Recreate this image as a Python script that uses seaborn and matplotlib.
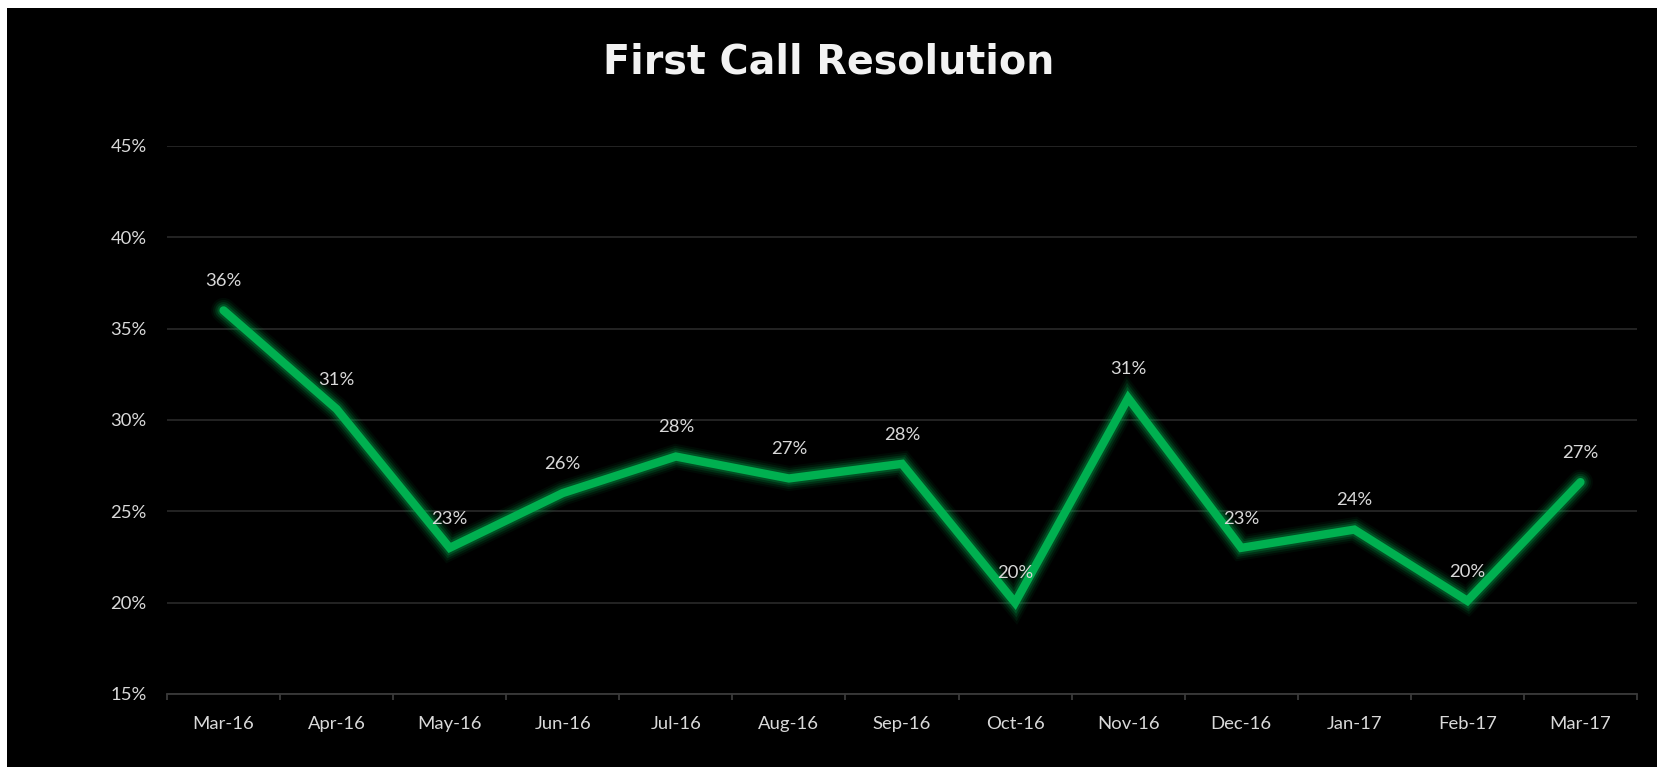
import numpy as np
import pandas as pd
import seaborn as sns
import matplotlib.pyplot as plt
import matplotlib.patheffects as pe
from matplotlib.patches import Rectangle
from matplotlib.ticker import FixedLocator, PercentFormatter

# values
months = ["Mar-16", "Apr-16", "May-16", "Jun-16", "Jul-16", "Aug-16", "Sep-16",
          "Oct-16", "Nov-16", "Dec-16", "Jan-17", "Feb-17", "Mar-17"]
fcr = [36.0, 30.6, 23.0, 26.0, 28.0, 26.8, 27.6, 20.0, 31.2, 23.0, 24.0, 20.1, 26.6]
y_ticks = [15, 20, 25, 30, 35, 40, 45]

df = pd.DataFrame({"month": months, "fcr": fcr})

GREEN = "#00B050"
TEXT = "#D9D9D9"
GRID = "#262626"

sns.set_style("dark")
plt.rcParams["font.family"] = ["Lato", "DejaVu Sans"]

W, H = 1658, 767
fig = plt.figure(figsize=(W / 100, H / 100), dpi=100)
fig.patch.set_facecolor("black")
# white strip on top and left like the screenshot
fig.patches.append(Rectangle((0, 0), 7 / W, 1, transform=fig.transFigure,
                             facecolor="white", edgecolor="none", zorder=-5))
fig.patches.append(Rectangle((0, 1 - 8 / H), 1, 8 / H, transform=fig.transFigure,
                             facecolor="white", edgecolor="none", zorder=-5))

ax = fig.add_axes([167 / W, (H - 694) / H, (1637 - 167) / W, (694 - 146) / H])
ax.set_facecolor("black")

# soft glow around the line
glow = [pe.Stroke(linewidth=6 + k, foreground="#00B050", alpha=a)
        for k, a in [(12, 0.06), (9, 0.10), (6, 0.16), (3, 0.25)]]
sns.lineplot(data=df, x="month", y="fcr", ax=ax, color=GREEN, linewidth=6,
             sort=False, zorder=3)
line = ax.lines[0]
line.set_solid_joinstyle("miter")
line.set_solid_capstyle("round")
line.set_path_effects(glow + [pe.Normal()])

for i, v in enumerate(fcr):
    ax.annotate(f"{v:.0f}%", (i, v), xytext=(0, 21), textcoords="offset points",
                ha="center", va="center", color=TEXT, fontsize=13.3, zorder=5)

ax.set_ylim(15, 45)
ax.set_xlim(-0.5, len(months) - 0.5)
ax.set_yticks(y_ticks)
ax.yaxis.set_major_formatter(PercentFormatter(decimals=0))
ax.xaxis.set_minor_locator(FixedLocator(np.arange(-0.5, len(months), 1.0)))
ax.grid(axis="y", color=GRID, linewidth=1.3)
ax.grid(axis="x", visible=False)
ax.set_axisbelow(True)
for s in ["top", "right", "left"]:
    ax.spines[s].set_visible(False)
ax.spines["bottom"].set_color("#3a3a3a")
ax.spines["bottom"].set_linewidth(1.3)
ax.tick_params(axis="y", length=0, pad=14.5, labelsize=13.3, labelcolor=TEXT)
ax.tick_params(axis="x", which="major", length=0, pad=15.5, labelsize=13.3,
               labelcolor=TEXT)
ax.tick_params(axis="x", which="minor", length=4.5, width=1.3, color="#3a3a3a",
               direction="out", bottom=True)
ax.set_xlabel("")
ax.set_ylabel("")

fig.text(829 / W, 1 - 73 / H, "First Call Resolution", ha="center", va="baseline",
         color="#F2F2F2", fontsize=28.5, fontweight="bold", family="DejaVu Sans")

fig.savefig("out.png", dpi=100, facecolor=fig.get_facecolor())
